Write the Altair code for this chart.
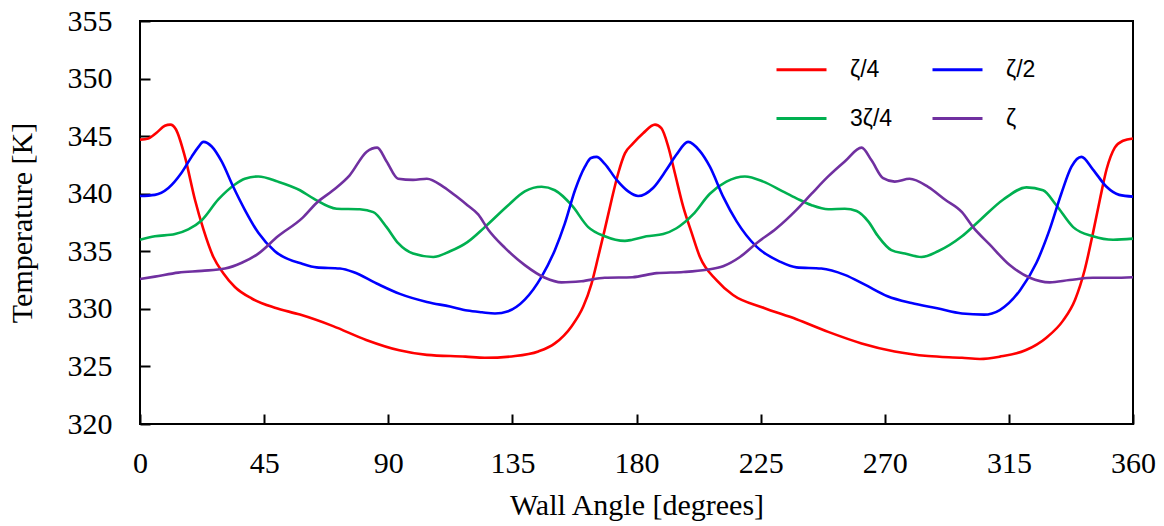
import altair as alt
import pandas as pd

# legend is filled column by column: column 1 = ζ/4, 3ζ/4 ; column 2 = ζ/2, ζ
series_names = ["ζ/4", "3ζ/4", "ζ/2", "ζ"]
series_colors = ["#FF0000", "#00B050", "#0000FF", "#7030A0"]

x_ticks = [0, 45, 90, 135, 180, 225, 270, 315, 360]
y_ticks = [320, 325, 330, 335, 340, 345, 350, 355]

red_angle = [0, 3, 6, 9, 11, 13, 16.3, 19.9, 23, 26.6, 30.2, 34.4, 40.5, 48.9, 58, 70, 82, 94, 104,
             118, 125, 136, 144.4, 150.4, 156.5, 160.7, 163.7, 166.1, 168.5, 171, 173.4, 175.8,
             178.5, 182.4, 186.7, 189, 191.5, 193.9, 196.9, 200, 203, 209, 215, 226, 238, 249.5,
             261.6, 273.6, 285.7, 298, 304.5, 311.7, 321, 328.6, 334.7, 339, 342.5, 345.5, 348,
             350.4, 353.4, 356.4, 360]
red_temp = [344.7, 344.8, 345.3, 345.9, 346.0, 345.6, 343.2, 339.5, 336.9, 334.5, 333.1, 331.9, 330.9,
            330.1, 329.5, 328.5, 327.3, 326.4, 326.0, 325.85, 325.75, 325.9, 326.3, 327.0, 328.5,
            330.2, 332.2, 334.5, 336.9, 339.5, 341.8, 343.5, 344.3, 345.25, 346.0, 345.7, 344.1,
            341.8, 338.9, 336.6, 334.5, 332.5, 331.2, 330.1, 329.1, 328.0, 327.0, 326.3, 325.9,
            325.75, 325.65, 325.85, 326.4, 327.5, 329.0, 330.8, 333.4, 336.6, 339.5, 342.1, 344.0,
            344.6, 344.8]

blue_angle = [0, 5.4, 10.3, 15, 18.7, 21, 23, 26, 29.6, 33.8, 38, 42.9, 48.9, 59, 64, 72.5, 77.3,
              85.8, 94.2, 104, 112.4, 118.7, 124, 128.7, 133.5, 139.5, 145.6, 150.4, 154, 157.7,
              161.3, 163.5, 165.5, 168.5, 172.8, 177, 180.6, 186, 190.9, 194.5, 198.7, 203, 206.6,
              211.4, 216.3, 223.5, 232, 238, 247, 255.5, 262.8, 271, 279.7, 289, 298, 306, 311.7,
              319, 325, 329.8, 334, 337.7, 341.3, 345.5, 350.4, 355, 360]
blue_temp = [339.8, 339.9, 340.5, 341.8, 343.2, 344.0, 344.5, 344.1, 342.8, 340.6, 338.6, 336.6,
             335.0, 333.9, 333.6, 333.5, 333.2, 332.2, 331.3, 330.6, 330.2, 329.85, 329.7, 329.6,
             329.8, 330.8, 332.8, 335.1, 337.4, 340.3, 342.35, 343.1, 343.2, 342.6, 341.2, 340.2,
             339.8, 340.5, 342.1, 343.4, 344.5, 343.7, 342.35, 339.75, 337.6, 335.4, 334.1, 333.6,
             333.5, 332.95, 332.1, 331.1, 330.5, 330.05, 329.6, 329.5, 329.9, 331.6, 334.0, 336.9,
             340.0, 342.35, 343.2, 342.1, 340.6, 339.9, 339.75]

green_angle = [0, 5.4, 12.7, 17.5, 22.4, 28.4, 34.4, 38, 42.9, 50, 58, 62.8, 71.3, 79.7, 84.6, 89.4,
               93.6, 99, 106.3, 112.4, 118.7, 125, 133.5, 139.5, 145.6, 150.4, 156.5, 162.5, 168.5,
               175.8, 178.5, 183.6, 189.7, 194.5, 200.5, 206.6, 212.6, 219.3, 226, 233, 238, 243.5,
               249.5, 255.5, 259.8, 264, 267.6, 272.4, 277.3, 283.3, 289.3, 298, 304.5, 313, 321.4,
               327.4, 332.2, 338.3, 345.5, 352.8, 360]
green_temp = [336.0, 336.3, 336.5, 336.9, 337.7, 339.5, 340.8, 341.3, 341.5, 341.05, 340.3, 339.6,
              338.7, 338.65, 338.4, 337.1, 335.7, 334.8, 334.5, 335.0, 335.8, 337.1, 339.0, 340.2,
              340.6, 340.3, 339.0, 337.1, 336.3, 335.9, 336.0, 336.3, 336.5, 337.0, 338.2, 340.0,
              341.05, 341.5, 341.05, 340.2, 339.6, 339.0, 338.65, 338.7, 338.5, 337.6, 336.3, 335.1,
              334.8, 334.5, 335.0, 336.3, 337.7, 339.5, 340.55, 340.3, 339.0, 337.1, 336.3, 336.0,
              336.1]

purple_angle = [0, 5.4, 13.9, 22.4, 30.8, 36.9, 42.9, 50, 58.9, 64, 70, 76, 82.2, 86, 89.4, 93.6, 99,
                104, 110, 114.8, 118.7, 122.6, 126.2, 132.3, 139.5, 146.8, 152.8, 160, 168.5, 178.5,
                187.3, 197, 205.4, 211.4, 217.5, 223.5, 230.8, 238, 243.5, 249.5, 255.5, 261.6,
                265.2, 269.4, 273.6, 279, 285.7, 291.8, 298, 302, 308, 315.3, 322.6, 329.8, 337,
                345.5, 352.8, 360]
purple_temp = [332.6, 332.8, 333.15, 333.3, 333.5, 334.0, 334.8, 336.3, 337.9, 339.2, 340.3, 341.6,
               343.65, 344.0, 342.8, 341.3, 341.2, 341.3, 340.6, 339.75, 339.0, 338.2, 336.9, 335.3,
               333.8, 332.7, 332.3, 332.4, 332.7, 332.75, 333.1, 333.2, 333.4, 333.7, 334.5, 335.7,
               337.0, 338.6, 340.0, 341.5, 342.8, 344.0, 342.9, 341.35, 341.05, 341.3, 340.6, 339.5,
               338.4, 337.1, 335.6, 333.8, 332.7, 332.3, 332.5, 332.7, 332.7, 332.75]

rows = []
for name, angles, temps in zip(series_names,
                               [red_angle, green_angle, blue_angle, purple_angle],
                               [red_temp, green_temp, blue_temp, purple_temp]):
    for a, t in zip(angles, temps):
        rows.append({"series": name, "angle": a, "temp": t})
df = pd.DataFrame(rows)

serif = "Liberation Serif"

chart = alt.Chart(df).mark_line(strokeWidth=2.6, interpolate="monotone").encode(
    x=alt.X("angle:Q",
            scale=alt.Scale(domain=[0, 360], nice=False),
            axis=alt.Axis(values=x_ticks, title="Wall Angle [degrees]", grid=False, domain=False,
                          offset=-10, tickSize=10, tickWidth=2, tickColor="black",
                          labelFont=serif, labelFontSize=30, labelColor="black", labelPadding=24,
                          labelFlush=False, labelOverlap=False,
                          titleFont=serif, titleFontSize=30, titleFontWeight="normal",
                          titleColor="black", titlePadding=12)),
    y=alt.Y("temp:Q",
            scale=alt.Scale(domain=[320, 355], nice=False, zero=False),
            axis=alt.Axis(values=y_ticks, title="Temperature [K]", grid=False, domain=False,
                          offset=-10, tickSize=10, tickWidth=2, tickColor="black",
                          labelFont=serif, labelFontSize=30, labelColor="black", labelPadding=28,
                          labelFlush=False, labelOverlap=False,
                          titleFont=serif, titleFontSize=30, titleFontWeight="normal",
                          titleColor="black", titlePadding=30)),
    color=alt.Color("series:N",
                    scale=alt.Scale(domain=series_names, range=series_colors),
                    sort=series_names,
                    legend=alt.Legend(title=None, orient="none", legendX=635, legendY=22,
                                      columns=2, symbolType="stroke", symbolSize=2500,
                                      symbolStrokeWidth=3, labelFont="Liberation Sans",
                                      labelFontSize=23, labelColor="black", labelOffset=22,
                                      columnPadding=33, rowPadding=10, padding=0)),
).properties(
    width=993, height=403, autosize="none",
    padding={"left": 140, "top": 21, "right": 31, "bottom": 102},
).configure(
    background="white",
).configure_view(
    stroke="black", strokeWidth=2,
)

chart.save("out.html", embed_options={"renderer": "svg", "actions": False})
